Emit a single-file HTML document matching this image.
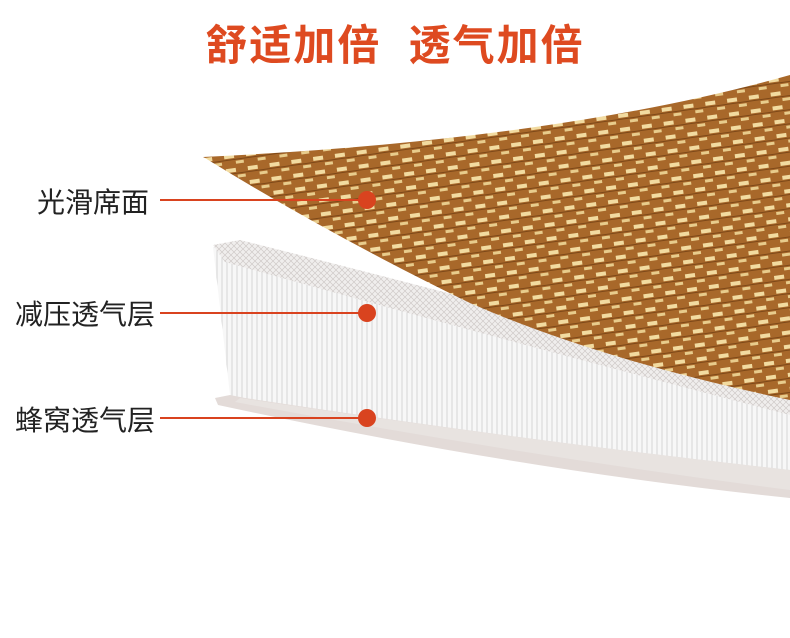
<!DOCTYPE html>
<html><head><meta charset="utf-8"><style>
body{margin:0;width:790px;height:638px;background:#fff;overflow:hidden;position:relative;font-family:"Liberation Sans","Noto Sans CJK SC",sans-serif}
.t{position:absolute;left:0;width:790px;top:12px;text-align:center;color:#de4a20;font-size:42px;font-weight:bold;letter-spacing:2px}
.l{position:absolute;left:15px;font-size:28px;color:#222}
</style></head><body>
<svg width="790" height="638" style="position:absolute;left:0;top:0">
<defs>
<pattern id="w" width="22" height="14" patternUnits="userSpaceOnUse" patternTransform="rotate(-8)">
<rect width="22" height="14" fill="#a8682a"/>
<rect x="2" y="3" width="10" height="4" fill="#f2dba0"/>
<rect x="13" y="10" width="8" height="3" fill="#e8cc8c"/>
<line x1="0" y1="8.5" x2="22" y2="8.5" stroke="#7d4818" stroke-width="1"/>
</pattern>
<pattern id="m" width="6" height="6" patternUnits="userSpaceOnUse">
<rect width="6" height="6" fill="#f0eeed"/>
<path d="M0 0L6 6M6 0L0 6" stroke="#cfcac8" stroke-width="0.7"/>
</pattern>
<pattern id="v" width="5" height="40" patternUnits="userSpaceOnUse">
<rect width="5" height="40" fill="#f7f7f7"/>
<line x1="2" y1="0" x2="2" y2="40" stroke="#d2d2d2" stroke-width="0.9"/>
</pattern>
</defs>
<path d="M215 398 L245 392 Q520 420 790 440 L790 498 Q520 470 218 405 Z" fill="#e3dbd8"/>
<path d="M213 247 L238 242 Q520 320 790 390 L790 470 Q520 440 245 398 L230 395 Z" fill="url(#v)"/>
<path d="M240 398 Q520 440 790 470 L790 490 Q520 455 235 402 Z" fill="#e8e3e1" opacity="0.9"/>
<path d="M213 245 L240 240 Q520 310 790 385 L790 415 Q520 345 225 262 Z" fill="url(#m)"/>
<path d="M203 157 Q560 140 790 75 L790 400 Q600 360 470 303 Q330 235 205 158 Z" fill="url(#w)"/>
<line x1="160" y1="200" x2="367" y2="200" stroke="#d9431f" stroke-width="2"/>
<line x1="160" y1="313" x2="367" y2="313" stroke="#d9431f" stroke-width="2"/>
<line x1="160" y1="418" x2="367" y2="418" stroke="#d9431f" stroke-width="2"/>
<circle cx="367" cy="200" r="9" fill="#d9431f"/>
<circle cx="367" cy="313" r="9" fill="#d9431f"/>
<circle cx="367" cy="418" r="9" fill="#d9431f"/>
</svg>
<div class="t">舒适加倍&nbsp;&nbsp;透气加倍</div>
<div class="l" style="top:181px;left:37px">光滑席面</div>
<div class="l" style="top:293px">减压透气层</div>
<div class="l" style="top:399px">蜂窝透气层</div>
</body></html>
